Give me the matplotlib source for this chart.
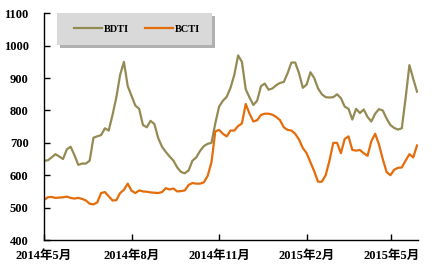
#!/usr/bin/env python3
"""
BDTI / BCTI tanker freight index lines, May 2014 - May 2015
"""
import pandas as pd
import matplotlib
matplotlib.use('Agg')
import matplotlib.pyplot as plt
import matplotlib.transforms as mtransforms
from matplotlib.patches import Rectangle

# values, one every 4 days from 2014-05-01
bdti = [645, 646, 655, 665, 658, 650, 680, 688, 662, 632,
        636, 636, 645, 716, 720, 724, 745, 738, 786, 840,
        910, 950, 875, 845, 815, 805, 755, 748, 768, 758,
        715, 688, 672, 658, 645, 624, 610, 606, 615, 645,
        655, 675, 690, 697, 700, 760, 812, 830, 842, 870,
        910, 970, 950, 865, 840, 817, 830, 875, 883, 864,
        868, 878, 885, 888, 915, 948, 948, 915, 870, 880,
        918, 900, 868, 850, 841, 840, 841, 850, 838, 812,
        805, 772, 805, 792, 803, 780, 766, 790, 804, 800,
        775, 755, 746, 741, 745, 838, 940, 898, 858]
bcti = [524, 532, 533, 530, 531, 532, 534, 530, 528, 530,
        527, 522, 512, 510, 516, 545, 548, 535, 522, 523,
        545, 555, 574, 552, 545, 553, 550, 549, 547, 546,
        545, 548, 560, 556, 559, 550, 551, 553, 570, 576,
        574, 574, 578, 598, 640, 735, 740, 728, 720, 738,
        738, 752, 760, 820, 790, 766, 770, 786, 790, 790,
        787, 780, 770, 748, 740, 738, 728, 710, 684, 668,
        640, 612, 580, 580, 600, 645, 700, 700, 668, 712,
        720, 678, 676, 678, 668, 660, 705, 728, 695, 650,
        610, 600, 617, 623, 624, 645, 665, 655, 692]
dates = pd.date_range('2014-05-01', periods=len(bdti), freq='4D')

tick_dates = pd.to_datetime(['2014-05-01', '2014-08-01', '2014-11-01',
                             '2015-02-01', '2015-05-01'])
tick_labels = ['2014年5月', '2014年8月', '2014年11月', '2015年2月', '2015年5月']

font = ['Liberation Serif', 'Noto Sans CJK SC']

fig = plt.figure(figsize=(4.33, 2.69), dpi=100)
ax = fig.add_axes([0.1016, 0.1078, 0.8637, 0.8427])

ax.plot(dates, bdti, color='#948a54', lw=1.6, label='BDTI')
ax.plot(dates, bcti, color='#e46c0a', lw=1.6, label='BCTI')

ax.set_ylim(400, 1100)
ax.set_yticks(range(400, 1101, 100))
ax.set_xlim(pd.Timestamp('2014-05-01'), pd.Timestamp('2015-05-29'))
ax.set_xticks(tick_dates)
ax.set_xticklabels(tick_labels)

ax.spines['top'].set_visible(False)
ax.spines['right'].set_visible(False)
ax.spines['left'].set_linewidth(1.0)
ax.spines['bottom'].set_linewidth(1.0)
ax.tick_params(axis='y', direction='in', length=4, width=1, pad=11)
ax.tick_params(axis='x', direction='in', length=4, width=1, pad=7)
for lab in ax.get_xticklabels() + ax.get_yticklabels():
    lab.set_fontfamily(font)
    lab.set_fontweight('bold')
    lab.set_fontsize(9)

# legend box with a soft grey drop shadow
box = (0.035, 0.859, 0.414, 0.141)
shift = mtransforms.offset_copy(ax.transAxes, fig=fig, x=3, y=-3, units='dots')
ax.add_patch(Rectangle(box[:2], box[2], box[3], transform=shift,
                       facecolor='#b0b0b0', edgecolor='none',
                       clip_on=False, zorder=4))
ax.add_patch(Rectangle(box[:2], box[2], box[3], transform=ax.transAxes,
                       facecolor='#d9d9d9', edgecolor='none',
                       clip_on=False, zorder=5))
leg = ax.legend(loc='center left', bbox_to_anchor=(0.080, 0.929),
                borderaxespad=0, borderpad=0, ncol=2, frameon=False,
                handlelength=2.7, handletextpad=0.2, columnspacing=1.5,
                prop={'family': 'Liberation Serif', 'weight': 'bold',
                      'size': 7.5})
leg.set_zorder(6)

fig.savefig('out.png', dpi=100)
